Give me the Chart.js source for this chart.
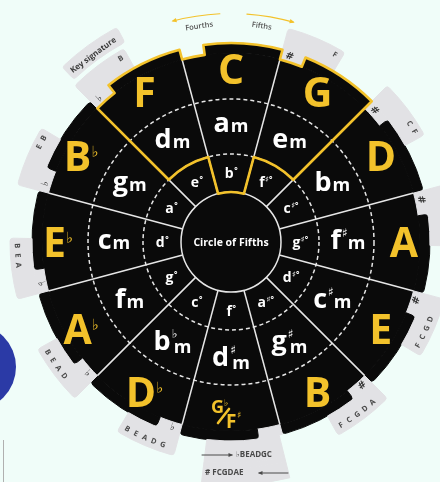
<!DOCTYPE html>
<html>
<head>
<meta charset="UTF-8">
<title>Circle of Fifths</title>
<script src="https://cdn.jsdelivr.net/npm/chart.js"></script>
<style>
    html, body {
        margin: 0;
        padding: 0;
        width: 440px;
        height: 482px;
        overflow: hidden;
        background: #f0fdf9;
    }
    .wheel {
        position: absolute;
        left: -12px;
        top: -1px;
    }
    .dot {
        position: absolute;
        left: -70px;
        top: 324px;
        width: 86px;
        height: 86px;
        border-radius: 50%;
        background: #2b3aa6;
    }
    .edge {
        position: absolute;
        left: 3px;
        top: 440px;
        width: 1px;
        height: 42px;
        background: #b0b0b0;
    }
</style>
</head>
<body>
<div class="dot"></div>
<div class="edge"></div>
<canvas id="wheel" class="wheel" width="486" height="486"></canvas>
<script>
// keys clockwise from the top
const majorKeys = ['C','G','D','A','E','B','G♭/F♯','D♭','A♭','E♭','B♭','F'];
const minorKeys = ['am','em','bm','f♯m','c♯m','g♯m','d♯m','b♭m','fm','cm','gm','dm'];
const dimKeys   = ['b°','f♯°','c♯°','g♯°','d♯°','a♯°','f°','c°','g°','d°','a°','e°'];
// key signature tabs
const sigSymbol  = ['', '#','#','#','#','#', '', '♭','♭','♭','♭','♭'];
const sigLetters = ['', 'F','FC','FCG','FCGD','FCGDA', '', 'BEADG','BEAD','BEA','BE','B'];
const fsharpLines = ['♭BEADGC', '# FCGDAE'];
// sector sizes in degrees
const sectorSize = [30,30,30,30,30,30,30,30,30,30,30,30];
const notchSize = 7;
const tabFrom = [null,0,0,0,0,0,1,0,0,0,0,0];
const tabTo   = [null,16,16,16,16,16,22,16,16,16,16,16];
const keySigTab = [11, 1, 17];      // key index, from, to
const highlight = [11, 0, 1];       // F, C, G

const CLEAR = 'rgba(0,0,0,0)';
const BLACK = '#0a0a0a';
const GREY = '#e2e2e5';
const YELLOW = '#f3c22b';
const INK = '#4a4a4a';
const deg = d => d * Math.PI / 180;
const F = (size, w) => (w || 'bold') + ' ' + size + 'px "Open Sans", "DejaVu Sans", sans-serif';
const SYM = size => 'bold ' + size + 'px "DejaVu Sans", sans-serif';

const sectorStart = sectorSize.map((s, k) => sectorSize.slice(0, k).reduce((a, b) => a + b, 0));

// one ring of the doughnut from [from, to, colour, radius] spans
function ring(spans, weight) {
    const data = [], bg = [], bw = [], br = [];
    let pos = 0;
    const gap = to => {
        if (to > pos) { data.push(to - pos); bg.push(CLEAR); bw.push(0); br.push(0); }
    };
    spans.forEach(([from, to, color, radius]) => {
        gap(from);
        data.push(to - from);
        bg.push(color);
        bw.push(color === CLEAR ? 0 : 1);
        br.push(radius || 0);
        pos = to;
    });
    gap(360);
    return { data, backgroundColor: bg, borderColor: bg, borderWidth: bw, borderRadius: br, weight };
}

const topRound = { outerStart: 3, outerEnd: 3, innerStart: 0, innerEnd: 0 };
const toothRound = { outerStart: 4, outerEnd: 4, innerStart: 0, innerEnd: 0 };
const fs = 6;
const fsSpan = [sectorStart[fs] + tabFrom[fs], sectorStart[fs] + tabTo[fs], GREY, 0];
const ksSpan = [sectorStart[keySigTab[0]] + keySigTab[1], sectorStart[keySigTab[0]] + keySigTab[2], GREY, 3];

const tabSpans = majorKeys.map((_, k) => tabFrom[k] === null ? null :
    [sectorStart[k] + tabFrom[k], sectorStart[k] + tabTo[k], GREY, k === fs ? 0 : topRound]).filter(Boolean);
const teethSpans = majorKeys.flatMap((_, k) => [
    [sectorStart[k], sectorStart[k] + notchSize, tabFrom[k] === null ? CLEAR : GREY, 0],
    [sectorStart[k] + notchSize, sectorStart[k] + sectorSize[k], BLACK, toothRound]
]);
const cells = keys => ({
    data: keys.map((_, k) => sectorSize[k]),
    backgroundColor: BLACK, borderColor: BLACK, borderWidth: 1
});

const datasets = [
    ring([fsSpan, ksSpan], 17),
    ring([fsSpan], 5),
    ring(tabSpans, 22),
    ring(teethSpans, 10),
    Object.assign(cells(majorKeys), { weight: 46 }),
    Object.assign(cells(minorKeys), { weight: 55 }),
    Object.assign(cells(dimKeys), { weight: 38 }),
    { data: [360], backgroundColor: BLACK, borderColor: BLACK, borderWidth: 1, weight: 50 }
];

// text helpers
function drawMajor(ctx, label, x, y) {
    ctx.fillStyle = YELLOW;
    ctx.strokeStyle = YELLOW;
    ctx.textAlign = 'left';
    ctx.textBaseline = 'alphabetic';
    if (label.includes('/')) {
        const [a, b] = label.split('/');
        ctx.font = F(18); ctx.fillText(a[0], x - 20, y - 2);
        ctx.font = SYM(9); ctx.fillText(a[1], x - 7, y - 9);
        ctx.lineWidth = 2.6;
        ctx.lineCap = 'round';
        ctx.beginPath();
        ctx.moveTo(x - 13, y + 8);
        ctx.lineTo(x - 2, y - 6);
        ctx.stroke();
        ctx.font = F(19); ctx.fillText(b[0], x - 5, y + 13);
        ctx.font = SYM(9); ctx.fillText(b[1], x + 6, y + 3);
        return;
    }
    const base = label[0], acc = label.slice(1);
    ctx.font = F(41); const wb = ctx.measureText(base).width;
    ctx.font = SYM(15); const wa = acc ? ctx.measureText(acc).width : 0;
    const left = x - (wb + wa) / 2, by = y + 15;
    ctx.font = F(41); ctx.fillText(base, left, by);
    if (acc) { ctx.font = SYM(15); ctx.fillText(acc, left + wb, by - 14); }
}

function drawMinor(ctx, label, x, y) {
    const base = label[0], acc = label.length > 2 ? label[1] : '';
    const stacked = acc && 'gdb'.includes(base);
    ctx.fillStyle = '#ffffff';
    ctx.textAlign = 'left';
    ctx.textBaseline = 'alphabetic';
    ctx.font = F(27); const wb = ctx.measureText(base).width;
    ctx.font = SYM(12); const wa = acc ? ctx.measureText(acc).width : 0;
    ctx.font = F(18); const wm = ctx.measureText('m').width;
    const total = wb + 1 + (stacked ? Math.max(wa, wm + 2) : wa + wm);
    const left = x - total / 2, by = y + 7;
    ctx.font = F(27); ctx.fillText(base, left, by);
    if (acc) { ctx.font = SYM(12); ctx.fillText(acc, left + wb + 1, by - 12); }
    ctx.font = F(18); ctx.fillText('m', left + wb + 1 + (stacked ? 2 : wa), by + (stacked ? 3 : 0));
}

function drawDim(ctx, label, x, y) {
    const base = label[0], sup = label.slice(1);
    ctx.fillStyle = '#ffffff';
    ctx.textAlign = 'left';
    ctx.textBaseline = 'alphabetic';
    ctx.font = F(14); const wb = ctx.measureText(base).width;
    ctx.font = F(8); const ws = ctx.measureText(sup).width;
    const left = x - (wb + ws) / 2, by = y + 5;
    ctx.font = F(14); ctx.fillText(base, left, by);
    ctx.font = F(8); ctx.fillText(sup, left + wb + 0.5, by - 5);
}

const overlay = {
    id: 'overlay',
    afterDatasetsDraw(chart) {
        const ctx = chart.ctx;
        const teeth = chart.getDatasetMeta(3).data;
        const major = chart.getDatasetMeta(4).data;
        const minor = chart.getDatasetMeta(5).data;
        const dim = chart.getDatasetMeta(6).data;
        const cx = major[0].x, cy = major[0].y;
        const rCore = dim[0].innerRadius, rDim = dim[0].outerRadius;
        const rMinor = minor[0].outerRadius, rMajor = major[0].outerRadius;
        const rTooth = teeth[1].outerRadius;
        const at = (a, r) => [cx + r * Math.cos(a), cy + r * Math.sin(a)];
        const mid = el => (el.startAngle + el.endAngle) / 2;
        const textAt = (str, a, r, font, color) => {
            ctx.save();
            ctx.translate(...at(a, r));
            ctx.rotate(Math.sin(a) < 0 ? a + Math.PI / 2 : a - Math.PI / 2);
            ctx.font = font;
            ctx.fillStyle = color;
            ctx.textAlign = 'center';
            ctx.textBaseline = 'middle';
            ctx.fillText(str, 0, 0);
            ctx.restore();
        };
        const arcArrow = (a, b, r) => {
            const dir = b < a ? -1 : 1;
            ctx.beginPath();
            ctx.arc(cx, cy, r, a, b, b < a);
            ctx.stroke();
            const [px, py] = at(b, r);
            const tx = -Math.sin(b) * dir, ty = Math.cos(b) * dir;
            const nx = Math.cos(b), ny = Math.sin(b);
            ctx.beginPath();
            ctx.moveTo(px + tx * 1.5, py + ty * 1.5);
            ctx.lineTo(px - tx * 3.5 + nx * 2.2, py - ty * 3.5 + ny * 2.2);
            ctx.lineTo(px - tx * 3.5 - nx * 2.2, py - ty * 3.5 - ny * 2.2);
            ctx.closePath();
            ctx.fill();
        };

        ctx.save();
        // spokes and rings
        ctx.strokeStyle = '#e6e6e6';
        ctx.lineWidth = 1.5;
        major.forEach(el => {
            ctx.beginPath();
            ctx.moveTo(...at(el.startAngle, rCore));
            ctx.lineTo(...at(el.startAngle, rMajor));
            ctx.stroke();
        });
        ctx.setLineDash([4, 3]);
        [rMinor, rDim].forEach(r => {
            ctx.beginPath();
            ctx.arc(cx, cy, r, 0, Math.PI * 2);
            ctx.stroke();
        });
        ctx.setLineDash([]);
        ctx.beginPath();
        ctx.arc(cx, cy, rCore, 0, Math.PI * 2);
        ctx.stroke();

        // yellow outline round F, C, G
        const first = major[highlight[0]], last = major[highlight[highlight.length - 1]];
        const hub = dim[highlight[1]];
        ctx.strokeStyle = YELLOW;
        ctx.lineWidth = 2.6;
        ctx.lineJoin = 'round';
        ctx.beginPath();
        ctx.moveTo(...at(first.startAngle, rDim));
        highlight.forEach(k => {
            const notchEnd = teeth[2 * k].endAngle;
            ctx.arc(cx, cy, rMajor, major[k].startAngle, notchEnd);
            ctx.arc(cx, cy, rTooth, notchEnd, major[k].endAngle);
        });
        ctx.lineTo(...at(last.endAngle, rDim));
        ctx.arc(cx, cy, rDim, last.endAngle, hub.endAngle, true);
        ctx.arc(cx, cy, rCore, hub.endAngle, hub.startAngle, true);
        ctx.arc(cx, cy, rDim, hub.startAngle, first.startAngle, true);
        ctx.closePath();
        ctx.stroke();

        // key labels
        major.forEach((el, k) => drawMajor(ctx, majorKeys[k], ...at(mid(el), (el.innerRadius + el.outerRadius) / 2 + 7)));
        minor.forEach((el, k) => drawMinor(ctx, minorKeys[k], ...at(mid(el), (el.innerRadius + el.outerRadius) / 2 + 1.5)));
        dim.forEach((el, k) => drawDim(ctx, dimKeys[k], ...at(mid(el), (el.innerRadius + el.outerRadius) / 2)));

        ctx.fillStyle = '#ffffff';
        ctx.font = F(10.5);
        ctx.textAlign = 'center';
        ctx.textBaseline = 'middle';
        ctx.fillText('Circle of Fifths', cx, cy + 1);

        // key signature tabs
        major.forEach((el, k) => {
            if (k === fs) return;
            if (sigSymbol[k]) textAt(sigSymbol[k], el.startAngle + deg(2.5), rMajor + 5.5, SYM(10), '#333333');
            [...sigLetters[k]].forEach((ch, i) => {
                textAt(ch, el.startAngle + deg(14 - 2.6 * i), rTooth + 15, F(7.5), INK);
            });
        });
        ctx.fillStyle = INK;
        ctx.strokeStyle = INK;
        ctx.lineWidth = 1;
        ctx.font = F(8);
        ctx.textAlign = 'left';
        ctx.textBaseline = 'middle';
        ctx.fillText(fsharpLines[0], cx + 5, cy + 213);
        ctx.fillText(fsharpLines[1], cx - 26, cy + 231);
        [[cx - 29, cx + 1, cy + 213], [cx + 57, cx + 28, cy + 231]].forEach(([x0, x1, y]) => {
            const d = x1 > x0 ? 1 : -1;
            ctx.beginPath();
            ctx.moveTo(x0, y); ctx.lineTo(x1, y);
            ctx.stroke();
            ctx.beginPath();
            ctx.moveTo(x1 + d, y); ctx.lineTo(x1 - d * 3.5, y - 2); ctx.lineTo(x1 - d * 3.5, y + 2);
            ctx.closePath();
            ctx.fill();
        });

        textAt('Key signature', major[keySigTab[0]].startAngle + deg(8.6), rTooth + 33, F(8), '#3a3a3a');

        // fourths / fifths arrows
        const cMid = mid(major[0]);
        textAt('Fourths', cMid - deg(8.4), rTooth + 19, F(7.5, '600'), '#555555');
        textAt('Fifths', cMid + deg(8.1), rTooth + 19, F(7.5, '600'), '#555555');
        ctx.strokeStyle = YELLOW;
        ctx.fillStyle = YELLOW;
        ctx.lineWidth = 1.2;
        arcArrow(cMid - deg(2.8), cMid - deg(14.7), rTooth + 29.5);
        arcArrow(cMid + deg(4), cMid + deg(15.8), rTooth + 29.5);
        ctx.restore();
    }
};

new Chart(document.getElementById('wheel'), {
    type: 'doughnut',
    data: { labels: majorKeys, datasets },
    options: {
        responsive: false,
        animation: false,
        events: [],
        rotation: -15,
        cutout: 0,
        radius: 243,
        hoverOffset: 0,
        layout: { padding: 0 },
        plugins: { legend: { display: false }, tooltip: { enabled: false } }
    },
    plugins: [overlay]
});
</script>
</body>
</html>
